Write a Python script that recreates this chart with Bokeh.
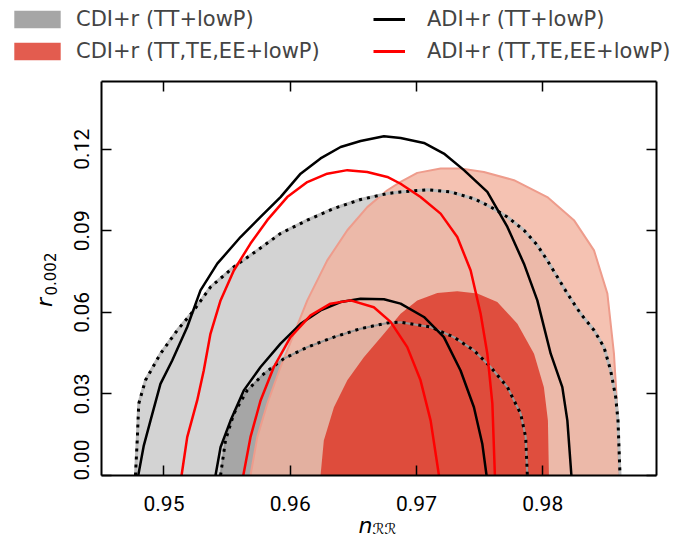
from bokeh.plotting import figure
from bokeh.layouts import column, row
from bokeh.models import (Range1d, FixedTicker, PrintfTickFormatter, LinearAxis,
                          Legend, LegendItem)
from bokeh.core.properties import value
from bokeh.embed import file_html
from bokeh.resources import INLINE

# ---- data ----
x_ticks = [0.95, 0.96, 0.97, 0.98]
y_ticks = [0.0, 0.03, 0.06, 0.09, 0.12]
x_tick_labels = ["0.95", "0.96", "0.97", "0.98"]

# CDI+r (TT+lowP): filled grey contours (95% and 68%)
cdi_tt_95_x = [0.94774, 0.94788, 0.948, 0.94853, 0.94972, 0.95105, 0.95236, 0.95368, 0.95553,
               0.95739, 0.95923, 0.96135, 0.96346, 0.96557, 0.96769, 0.96874, 0.97086, 0.9727,
               0.97455, 0.97587, 0.9772, 0.97851, 0.97957, 0.98036, 0.98116, 0.98195, 0.983,
               0.98406, 0.98485, 0.98538, 0.98578, 0.98596, 0.98612]
cdi_tt_95_y = [0.0, 0.0129, 0.0264, 0.0350, 0.0448, 0.0534, 0.0607, 0.0693, 0.0767,
               0.0828, 0.0890, 0.0939, 0.0982, 0.1015, 0.1037, 0.1043, 0.1051, 0.1043,
               0.1018, 0.0988, 0.0951, 0.0902, 0.0847, 0.0791, 0.0730, 0.0669, 0.0595,
               0.0534, 0.0472, 0.0386, 0.0288, 0.0202, 0.0]
cdi_tt_68_x = [0.95448, 0.95487, 0.95553, 0.95659, 0.95791, 0.95949, 0.96135, 0.96346, 0.96557,
               0.96769, 0.96874, 0.97112, 0.97296, 0.97455, 0.97587, 0.9772, 0.97825, 0.97865, 0.97878]
cdi_tt_68_y = [0.0, 0.0129, 0.0227, 0.0313, 0.0374, 0.0430, 0.0472, 0.0509, 0.0540,
               0.0561, 0.0564, 0.0546, 0.0509, 0.0460, 0.0399, 0.0325, 0.0227, 0.0141, 0.0]

# CDI+r (TT,TE,EE+lowP): filled red contours
cdi_all_95_x = [0.95685, 0.95739, 0.95818, 0.95923, 0.96029, 0.96135, 0.96293, 0.96452, 0.9661,
                0.96769, 0.96874, 0.97006, 0.97191, 0.97349, 0.97534, 0.97772, 0.98036, 0.98247,
                0.98406, 0.98512, 0.98564, 0.98596, 0.98604]
cdi_all_95_y = [0.0, 0.0141, 0.0264, 0.0399, 0.0521, 0.0644, 0.0791, 0.0902, 0.0987,
                0.1049, 0.1080, 0.1113, 0.1129, 0.1129, 0.1116, 0.1086, 0.1024, 0.0939,
                0.0828, 0.0669, 0.0448, 0.0202, 0.0]
cdi_all_68_x = [0.9624, 0.96266, 0.96346, 0.96452, 0.96583, 0.96742, 0.96874, 0.97006, 0.97165,
                0.97323, 0.97482, 0.9764, 0.97799, 0.97931, 0.98009, 0.98041, 0.98049]
cdi_all_68_y = [0.0, 0.0129, 0.0251, 0.0350, 0.0435, 0.0521, 0.0595, 0.0644, 0.0671,
                0.0678, 0.0669, 0.0638, 0.0558, 0.0448, 0.0325, 0.0202, 0.0]

# ADI+r (TT+lowP): black line contours
adi_tt_95_x = [0.94796, 0.9484, 0.94893, 0.94972, 0.95065, 0.95184, 0.95289, 0.95422, 0.95606,
               0.95765, 0.95923, 0.96082, 0.9624, 0.96399, 0.96557, 0.96742, 0.96874, 0.97059,
               0.97217, 0.97376, 0.97561, 0.9772, 0.97851, 0.97957, 0.98063, 0.98155, 0.98195, 0.98227]
adi_tt_95_y = [0.0, 0.0110, 0.0202, 0.0337, 0.0423, 0.0546, 0.0681, 0.0779, 0.0877,
               0.0951, 0.1024, 0.1110, 0.1166, 0.1208, 0.1230, 0.1248, 0.1241, 0.1223,
               0.1184, 0.1123, 0.1043, 0.0914, 0.0779, 0.0644, 0.0448, 0.0325, 0.0202, 0.0]
adi_tt_68_x = [0.95408, 0.95448, 0.95527, 0.95632, 0.95765, 0.95923, 0.96082, 0.9624, 0.96399,
               0.96557, 0.96742, 0.96874, 0.97059, 0.97217, 0.97349, 0.97455, 0.97521, 0.97555]
adi_tt_68_y = [0.0, 0.0104, 0.0202, 0.0313, 0.0399, 0.0485, 0.0558, 0.0607, 0.0638,
               0.0650, 0.0648, 0.0632, 0.0583, 0.0509, 0.0386, 0.0251, 0.0117, 0.0]

# ADI+r (TT,TE,EE+lowP): red line contours
adi_all_95_x = [0.95139, 0.95184, 0.95263, 0.95315, 0.95368, 0.95448, 0.95553, 0.95685, 0.95818,
                0.95976, 0.96135, 0.96293, 0.96452, 0.9661, 0.96769, 0.96874, 0.97032, 0.97191,
                0.97323, 0.97429, 0.97508, 0.97561, 0.97601, 0.97621]
adi_all_95_y = [0.0, 0.0141, 0.0276, 0.0386, 0.0521, 0.0644, 0.0754, 0.0853, 0.0939,
                0.1024, 0.1079, 0.1110, 0.1123, 0.1116, 0.1098, 0.1073, 0.1024, 0.0963,
                0.0877, 0.0754, 0.0595, 0.0448, 0.0264, 0.0]
adi_all_68_x = [0.95628, 0.95685, 0.95765, 0.9587, 0.96002, 0.96161, 0.96319, 0.96478, 0.96662,
                0.96795, 0.96927, 0.97032, 0.97112, 0.97178]
adi_all_68_y = [0.0, 0.0141, 0.0276, 0.0399, 0.0509, 0.0589, 0.0632, 0.0644, 0.0619,
                0.0565, 0.0472, 0.0350, 0.0202, 0.0]

legend_labels = ["CDI+r (TT+lowP)", "CDI+r (TT,TE,EE+lowP)",
                 "ADI+r (TT+lowP)", "ADI+r (TT,TE,EE+lowP)"]

# ---- styles ----
GREY95, GREY68 = "#d3d3d3", "#a6a6a6"
RED95, RED68 = "#f3b39f", "#dc3323"
RED_ALPHA = 0.8
TICK_FONT = "Roboto"
LEG_FONT = "DejaVu Sans"

X0, X1 = 0.94505, 0.98901
FRAME_W, FRAME_H = 555, 394
BL, BR = 41, 30          # main plot borders (ylab strip of 60px sits to the left)
YLAB_W = 60
TOTAL_W = YLAB_W + BL + FRAME_W + BR


def strip(w, h, **kw):
    f = figure(width=w, height=h, min_border=0, x_axis_location=None, y_axis_location=None,
               output_backend="svg", toolbar_location=None, **kw)
    f.xgrid.visible = False
    f.ygrid.visible = False
    f.outline_line_color = None
    return f


# ---- main plot ----
p = figure(frame_width=FRAME_W, frame_height=FRAME_H,
           x_range=Range1d(X0, X1), y_range=Range1d(0.0, 0.1449),
           min_border_left=BL, min_border_right=BR, min_border_top=5, min_border_bottom=5,
           output_backend="svg", toolbar_location=None)
p.xgrid.visible = False
p.ygrid.visible = False
p.outline_line_color = None

p.yaxis[0].major_label_text_font = TICK_FONT
p.yaxis[0].major_label_text_font_size = "21px"
p.yaxis[0].major_label_text_color = "black"
p.yaxis[0].ticker = FixedTicker(ticks=y_ticks)
p.yaxis[0].formatter = PrintfTickFormatter(format="%.2f")
p.yaxis[0].major_label_orientation = "vertical"
p.yaxis[0].major_label_standoff = 12

p.xaxis[0].ticker = FixedTicker(ticks=x_ticks)
p.xaxis[0].major_label_text_font_size = "0px"
p.xaxis[0].major_label_overrides = {t: "" for t in x_ticks}
p.xaxis[0].major_label_standoff = 0

top_ax = LinearAxis(ticker=FixedTicker(ticks=x_ticks), major_label_text_font_size="0px",
                    major_label_overrides={t: "" for t in x_ticks}, major_label_standoff=0)
right_ax = LinearAxis(ticker=FixedTicker(ticks=y_ticks), major_label_text_font_size="0px",
                      major_label_overrides={t: "" for t in y_ticks}, major_label_standoff=0)
p.add_layout(top_ax, "above")
p.add_layout(right_ax, "right")

for ax in p.xaxis + p.yaxis:
    ax.axis_line_width = 2
    ax.axis_line_color = "black"
    ax.major_tick_in = 10
    ax.major_tick_out = 0
    ax.major_tick_line_width = 1.5
    ax.major_tick_line_color = "black"
    ax.minor_tick_line_color = None

# fills
p.patch(cdi_tt_95_x, cdi_tt_95_y, fill_color=GREY95, line_color=None)
p.patch(cdi_tt_68_x, cdi_tt_68_y, fill_color=GREY68, line_color=None)
p.patch(cdi_all_95_x, cdi_all_95_y, fill_color=RED95, fill_alpha=RED_ALPHA, line_color=None)
p.patch(cdi_all_68_x, cdi_all_68_y, fill_color=RED68, fill_alpha=RED_ALPHA, line_color=None)

# fill edges
p.line(cdi_all_95_x, cdi_all_95_y, line_color="#ee9c8c", line_width=2)
p.line(cdi_tt_95_x, cdi_tt_95_y, line_color="#bdbdbd", line_width=3)
p.line(cdi_tt_68_x, cdi_tt_68_y, line_color="#999999", line_width=2)

# dotted
p.line(cdi_tt_95_x, cdi_tt_95_y, line_color="black", line_width=3, line_dash="3 5")
p.line(cdi_tt_68_x, cdi_tt_68_y, line_color="black", line_width=3, line_dash="3 5")

# solid lines
p.line(adi_tt_95_x, adi_tt_95_y, line_color="black", line_width=2.5)
p.line(adi_tt_68_x, adi_tt_68_y, line_color="black", line_width=2.5)
p.line(adi_all_95_x, adi_all_95_y, line_color="#ff0000", line_width=2.5)
p.line(adi_all_68_x, adi_all_68_y, line_color="#ff0000", line_width=2.5)

# ---- legend strip (pixel coordinates) ----
LH = 76
leg = strip(TOTAL_W, LH, x_range=Range1d(0, TOTAL_W), y_range=Range1d(0, LH))
lg1 = leg.patch(cdi_tt_68_x, cdi_tt_68_y, fill_color=GREY68, line_color=None, visible=False)
lg2 = leg.patch(cdi_all_68_x, cdi_all_68_y, fill_color=RED68, fill_alpha=RED_ALPHA,
                line_color=None, visible=False)
lg3 = leg.line(adi_tt_95_x, adi_tt_95_y, line_color="black", line_width=3, visible=False)
lg4 = leg.line(adi_all_95_x, adi_all_95_y, line_color="#ff0000", line_width=3, visible=False)

common = dict(glyph_height=22, label_height=22, spacing=8, padding=0, margin=0,
              border_line_color=None, background_fill_alpha=0,
              label_text_font=LEG_FONT, label_text_font_size="21px",
              inactive_fill_alpha=0)
leg.add_layout(Legend(items=[LegendItem(label=legend_labels[0], renderers=[lg1]),
                             LegendItem(label=legend_labels[1], renderers=[lg2])],
                      location=(8, 13), glyph_width=58, label_standoff=10, **common))
leg.add_layout(Legend(items=[LegendItem(label=legend_labels[2], renderers=[lg3]),
                             LegendItem(label=legend_labels[3], renderers=[lg4])],
                      location=(373, 13), glyph_width=32, label_standoff=22, **common))

# ---- y-axis label strip (its frame is aligned with the main frame: 0..394 px) ----
ylab = strip(YLAB_W, 5 + FRAME_H + 5, x_range=Range1d(0, YLAB_W), y_range=Range1d(0, FRAME_H))
ylab.text(x=[44], y=[173], text=["r"], angle=1.5708, text_font=value("DejaVu Sans"),
          text_font_style="italic", text_font_size="22px", text_align="center",
          text_baseline="middle", text_color="black")
ylab.text(x=[50], y=[180], text=["0.002"], angle=1.5708, text_font=value("DejaVu Sans"),
          text_font_size="15px", text_align="left", text_baseline="middle",
          text_color="black")

# ---- x tick labels + x-axis label strip (same x scale as the main frame) ----
XH = 57
k = (X1 - X0) / FRAME_W
xlab = strip(TOTAL_W, XH,
             x_range=Range1d(X0 - (YLAB_W + BL) * k, X1 + BR * k), y_range=Range1d(0, XH))
xlab.text(x=x_ticks, y=[XH - 23] * len(x_ticks), text=x_tick_labels, text_font=value(TICK_FONT),
          text_font_size="21px", text_align="center", text_baseline="alphabetic",
          text_color="black")
xmid = (X0 + X1) / 2
xlab.text(x=[xmid], y=[XH - 45], x_offset=-20.5, text=["n"], text_font=value("DejaVu Sans"),
          text_font_style="italic", text_font_size="22px", text_align="left",
          text_baseline="alphabetic", text_color="black")
xlab.text(x=[xmid], y=[XH - 48], x_offset=-6.5, text=["ℛℛ"], text_font=value("DejaVu Sans"),
          text_font_size="15px", text_align="left", text_baseline="alphabetic",
          text_color="black")

layout = column(leg, row(ylab, p, spacing=0), xlab, spacing=0)
open("out.html", "w").write(file_html(layout, INLINE))
